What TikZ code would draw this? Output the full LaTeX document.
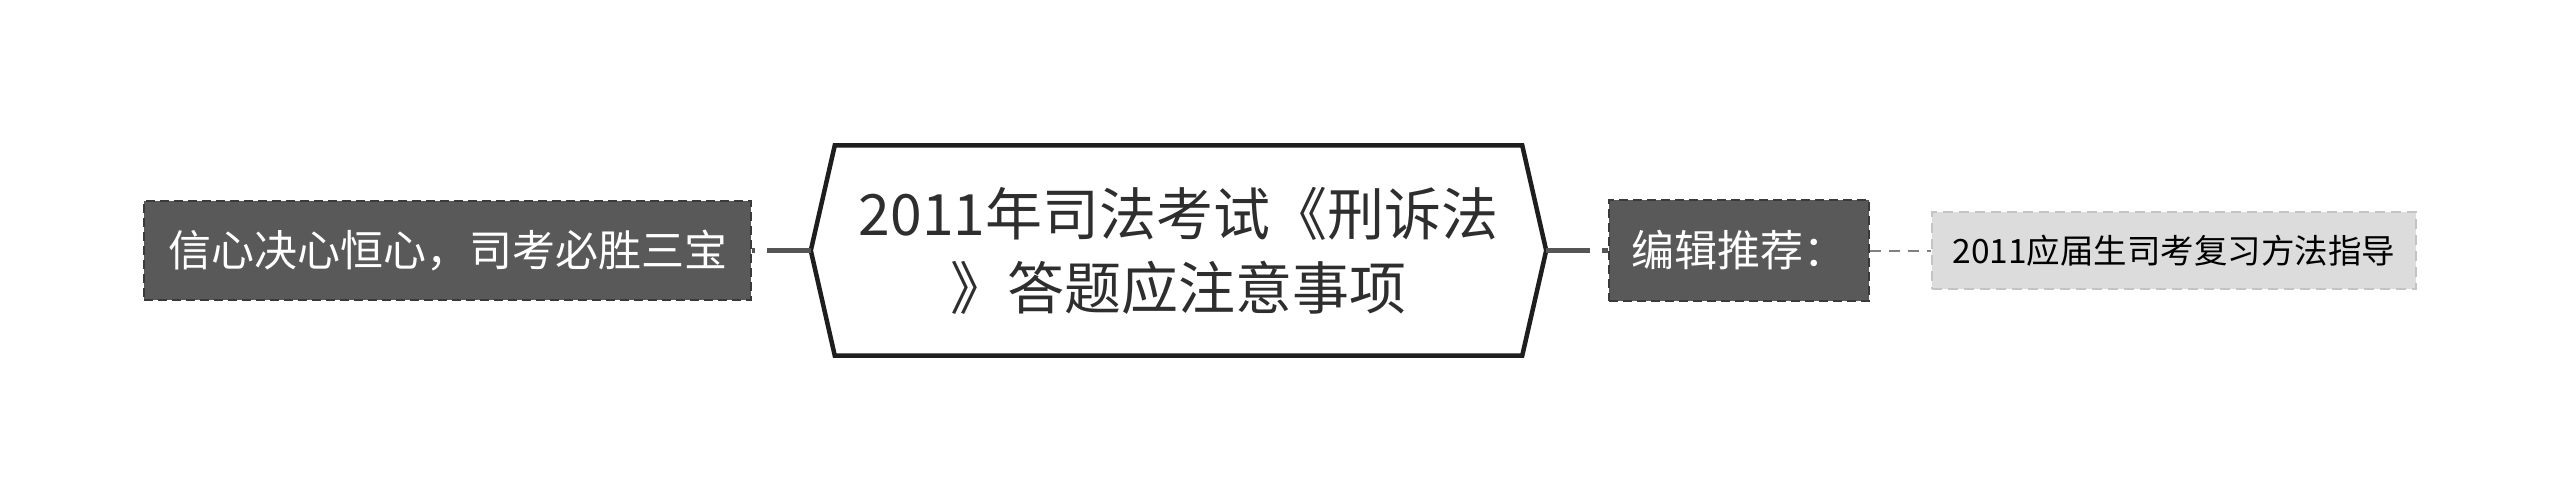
\documentclass[tikz,border=0pt]{standalone}
\usepackage{fontspec}
\newfontfamily\cjk{Noto Sans CJK SC}
\definecolor{boxdark}{HTML}{595959}
\definecolor{boxrim}{HTML}{3A3A3A}
\definecolor{leaffill}{HTML}{DCDCDC}
\definecolor{leafrim}{HTML}{C4C4C4}
\definecolor{hexline}{HTML}{1E1E1E}
\definecolor{hextext}{HTML}{2E2E2E}
\definecolor{linkgray}{HTML}{555555}

\begin{document}
\begin{tikzpicture}[x=1pt,y=-1pt,
  branch/.style={fill=boxdark,draw=boxrim,dash pattern=on 9pt off 5pt,line width=2.5pt,text=white,inner sep=0pt,
    font=\cjk\fontsize{43}{52}\selectfont},
  leaf/.style={fill=leaffill,draw=leafrim,dash pattern=on 10pt off 6pt,line width=2.5pt,text=black,inner sep=0pt,
    font=\cjk\fontsize{33.5}{40}\selectfont},
  trunk/.style={draw=linkgray,line width=4.5pt,dash pattern=on 44pt off 12pt on 44pt off 12pt},
  twig/.style={draw=gray,line width=2pt,dash pattern=on 11pt off 8pt}]
\fill[white] (0,0) rectangle (2560,501);
\useasboundingbox (0,0) rectangle (2560,501);
% centre topic
\node[inner sep=0pt,minimum width=735pt,minimum height=210pt,align=center,text=hextext,
  font=\cjk\fontsize{57}{74}\selectfont] (root) at (1178.5,250.5) {2011年司法考试《刑诉法\\》答题应注意事项};
\draw[hexline,line width=4.5pt,line join=miter] (root.west) -- ([xshift=24pt]root.north west)
  -- ([xshift=-24pt]root.north east) -- (root.east) -- ([xshift=-24pt]root.south east)
  -- ([xshift=24pt]root.south west) -- cycle;
% branches
\node[branch,minimum width=607pt,minimum height=99pt] (faith) at (447.5,250.5) {信心决心恒心，司考必胜三宝};
\node[branch,minimum width=260pt,minimum height=101pt] (tip) at (1739,250.5) {编辑推荐：};
\node[leaf,minimum width=484pt,minimum height=77pt] (guide) at (2174,250.5) {2011应届生司考复习方法指导};
\draw[trunk] (root.west) -- (faith.east);
\draw[trunk] (root.east) -- (tip.west);
\draw[twig] (tip.east) -- (guide.west);
\end{tikzpicture}
\end{document}
